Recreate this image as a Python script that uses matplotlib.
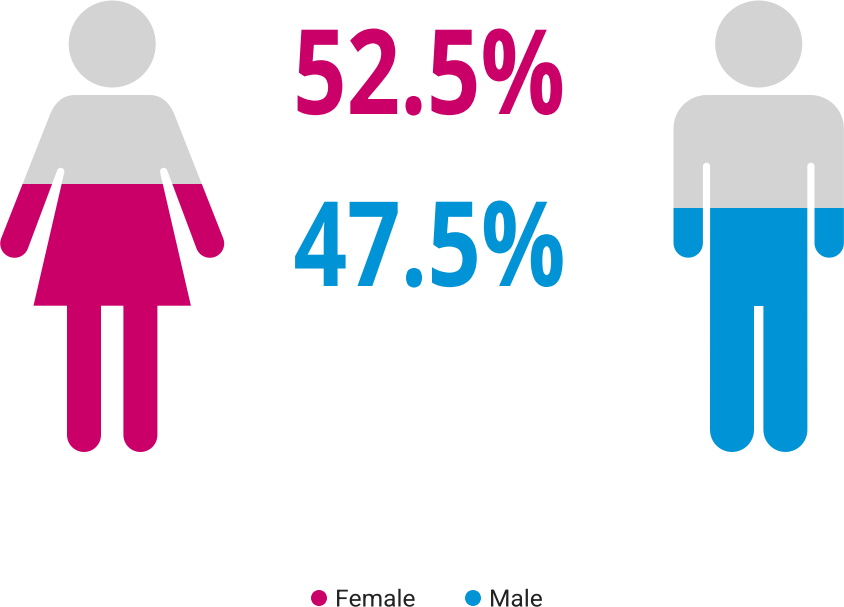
import numpy as np
import matplotlib
matplotlib.use('Agg')
import matplotlib.pyplot as plt
from matplotlib.patches import Polygon, Circle, Rectangle
from matplotlib.patheffects import AbstractPathEffect
from matplotlib.transforms import Affine2D

categories = ['Female', 'Male']
percent = [52.5, 47.5]
colors = ['#ca0068', '#0094d6']
grey = '#d3d3d3'

# fill height of the pictograms, in pixels per percent
def level_y(p):
    return 433.1 - 4.74 * p

def arc(cx, cy, r, a0, a1, n=24):
    t = np.radians(np.linspace(a0, a1, n))
    return list(zip(cx + r * np.cos(t), cy + r * np.sin(t)))

def bez(p0, p1, p2, n=20):
    t = np.linspace(0, 1, n)[:, None]
    p0, p1, p2 = map(np.array, (p0, p1, p2))
    return [tuple(q) for q in (1 - t)**2 * p0 + 2 * t * (1 - t) * p1 + t**2 * p2]

# squeezes or widens the glyphs sideways, no condensed font is installed
class StretchX(AbstractPathEffect):
    def __init__(self, sx):
        super().__init__()
        self.sx = sx

    def draw_path(self, renderer, gc, tpath, affine, rgbFace=None):
        renderer.draw_path(gc, tpath, Affine2D().scale(self.sx, 1) + affine, rgbFace)

# left half of each outline, the right one is mirrored
def female_half(cx):
    pts = [(cx, 95), (75, 95)]
    pts += bez((75, 95), (57, 95), (49, 117))
    pts += arc(14.5, 243.5, 14.3, 202, 22)
    pts += arc(60.7, 171.5, 3.7, 200, 375)
    pts += [(33.5, 305.7), (67, 305.7), (67, 435)]
    pts += arc(84, 435, 17, 180, 0)
    pts += [(101, 305.7), (cx, 305.7)]
    return pts

def male_half(cx):
    pts = [(cx, 95), (707, 95)]
    pts += arc(707, 128.5, 33.5, 270, 180)
    pts += [(673.5, 243)]
    pts += arc(688.2, 243, 14.7, 180, 0)
    pts += [(702.9, 166.3)]
    pts += arc(706.5, 166.3, 3.6, 180, 360)
    pts += [(710, 430)]
    pts += arc(732, 430, 22, 180, 0)
    pts += [(754, 306), (cx, 306)]
    return pts

def mirrored(pts, cx):
    return pts + [(2 * cx - x, y) for x, y in pts[::-1]]

fig = plt.figure(figsize=(8.44, 6.07), dpi=100)
ax = fig.add_axes([0, 0, 1, 1])
ax.set_xlim(0, 844)
ax.set_ylim(607, 0)
ax.axis('off')

figures = [(112.2, 44, female_half), (758.7, 44, male_half)]

for (cx, cy, half), p, col in zip(figures, percent, colors):
    outline = mirrored(half(cx), cx)
    y = level_y(p)
    top = Rectangle((cx - 120, -10), 240, y + 10, transform=ax.transData)
    bottom = Rectangle((cx - 120, y), 240, 500, transform=ax.transData)
    body = Polygon(outline, closed=True, fc=grey, ec='none')
    ax.add_patch(body)
    body.set_clip_path(top)
    body2 = Polygon(outline, closed=True, fc=col, ec='none')
    ax.add_patch(body2)
    body2.set_clip_path(bottom)
    ax.add_patch(Circle((cx, cy), 43.5, fc=grey, ec='none'))

for i, (x, y) in enumerate([(293, 114), (293.5, 286)]):
    ax.text(x, y, '%.1f%%' % percent[i], color=colors[i], fontsize=85,
            fontweight='bold', family='Open Sans', ha='left', va='baseline',
            path_effects=[StretchX(0.795)])

# legend
for name, col, x in zip(categories, colors, [319, 473]):
    ax.add_patch(Circle((x, 598), 8, fc=col, ec='none'))
    ax.text(x + 16, 606.5, name, color='#222222', fontsize=17, family='Roboto',
            ha='left', va='baseline', path_effects=[StretchX(1.04)])

fig.savefig('out.png', dpi=100)
